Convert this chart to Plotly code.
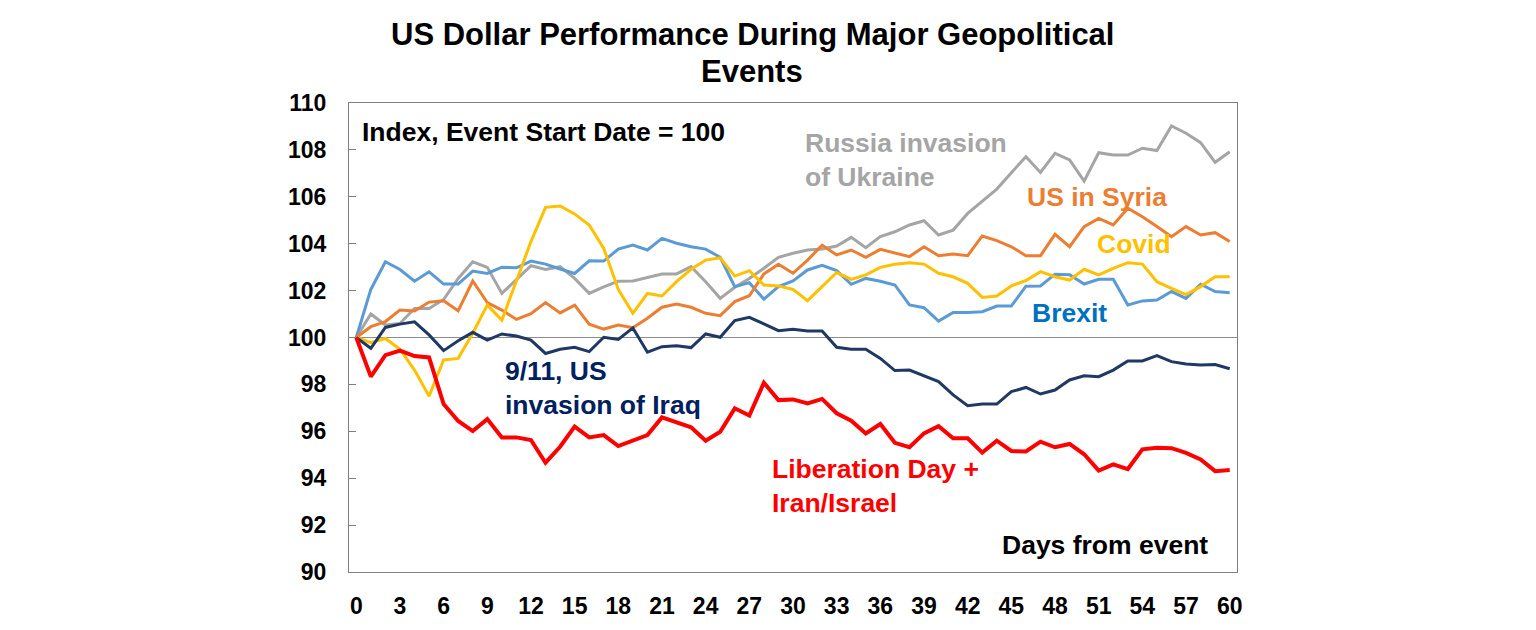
import plotly.graph_objects as go

days = list(range(61))
base = 100

russia = [100, 101.0, 100.53, 100.6, 101.24, 101.24, 101.62, 102.52, 103.23, 102.99, 101.88,
          102.45, 103.06, 102.9, 103.02, 102.52, 101.88, 102.16, 102.4, 102.41, 102.55,
          102.71, 102.71, 103.02, 102.38, 101.67, 102.14, 102.52, 102.95, 103.42, 103.59,
          103.73, 103.77, 103.9, 104.27, 103.83, 104.3, 104.51, 104.8, 104.98, 104.37,
          104.58, 105.29, 105.83, 106.33, 107.03, 107.71, 107.04, 107.85, 107.57, 106.67,
          107.88, 107.78, 107.78, 108.07, 107.97, 109.02, 108.71, 108.31, 107.47, 107.92]
brexit = [100, 102.05, 103.23, 102.9, 102.4, 102.8, 102.28, 102.28, 102.83, 102.73, 103.0,
          102.97, 103.26, 103.13, 102.92, 102.73, 103.27, 103.26, 103.77, 103.94, 103.73,
          104.23, 104.02, 103.87, 103.77, 103.42, 102.17, 102.34, 101.64, 102.17, 102.41,
          102.88, 103.08, 102.85, 102.27, 102.52, 102.4, 102.24, 101.39, 101.27, 100.7,
          101.07, 101.07, 101.1, 101.34, 101.34, 102.19, 102.2, 102.7, 102.68, 102.28,
          102.48, 102.48, 101.39, 101.56, 101.6, 101.96, 101.67, 102.27, 101.96, 101.91]
syria = [100, 100.46, 100.68, 101.17, 101.13, 101.51, 101.57, 101.14, 102.41, 101.49, 101.17,
         100.77, 101.02, 101.49, 101.05, 101.38, 100.57, 100.36, 100.53, 100.42, 100.82,
         101.29, 101.43, 101.29, 101.03, 100.93, 101.53, 101.78, 102.71, 103.12, 102.74,
         103.3, 103.94, 103.52, 103.73, 103.42, 103.76, 103.59, 103.45, 103.87, 103.49,
         103.56, 103.49, 104.33, 104.13, 103.87, 103.49, 103.49, 104.4, 103.87, 104.73,
         105.08, 104.8, 105.51, 105.15, 104.73, 104.3, 104.73, 104.37, 104.47, 104.09]
covid = [100, 99.78, 99.96, 99.5, 98.61, 97.5, 99.04, 99.11, 100.18, 101.38, 100.74,
         102.45, 104.09, 105.55, 105.61, 105.27, 104.8, 103.8, 102.05, 101.03, 101.88,
         101.77, 102.38, 102.91, 103.3, 103.4, 102.62, 102.85, 102.24, 102.2, 102.05,
         101.57, 102.17, 102.77, 102.48, 102.67, 102.99, 103.12, 103.19, 103.13, 102.74,
         102.59, 102.31, 101.71, 101.77, 102.2, 102.43, 102.81, 102.59, 102.45, 102.91,
         102.67, 102.95, 103.19, 103.13, 102.38, 102.1, 101.83, 102.17, 102.59, 102.59]
iraq = [100, 99.54, 100.43, 100.57, 100.67, 100.11, 99.44, 99.86, 100.22, 99.89, 100.15,
        100.06, 99.89, 99.32, 99.5, 99.58, 99.4, 100.01, 99.92, 100.41, 99.37,
        99.61, 99.65, 99.57, 100.15, 100.01, 100.72, 100.86, 100.58, 100.29, 100.35,
        100.28, 100.28, 99.58, 99.5, 99.5, 99.11, 98.59, 98.61, 98.37, 98.12,
        97.55, 97.09, 97.16, 97.16, 97.69, 97.87, 97.59, 97.76, 98.19, 98.37,
        98.33, 98.61, 99.0, 99.0, 99.23, 98.97, 98.87, 98.83, 98.85, 98.67]
liberation = [100, 98.33, 99.25, 99.44, 99.21, 99.15, 97.16, 96.44, 96.01, 96.52, 95.74,
              95.74, 95.63, 94.66, 95.34, 96.2, 95.74, 95.84, 95.37, 95.6, 95.84,
              96.59, 96.37, 96.17, 95.6, 95.98, 96.98, 96.67, 98.07, 97.33, 97.36,
              97.19, 97.38, 96.77, 96.45, 95.91, 96.31, 95.51, 95.32, 95.91, 96.22,
              95.7, 95.7, 95.09, 95.6, 95.16, 95.14, 95.56, 95.32, 95.46, 95.02,
              94.32, 94.59, 94.39, 95.23, 95.3, 95.28, 95.08, 94.8, 94.3, 94.35]

xticks = list(range(0, 61, 3))

font = "Liberation Sans, Arial, sans-serif"

fig = go.Figure()
fig.add_hline(y=base, line=dict(color="#8c8c8c", width=1.2), layer="below")

series = [
    (russia, "#a5a5a5", 3),
    (brexit, "#5b9bd5", 3),
    (syria, "#ed7d31", 3),
    (covid, "#ffc000", 3),
    (iraq, "#1f3864", 3),
    (liberation, "#ff0000", 4),
]
for vals, col, w in series:
    fig.add_trace(go.Scatter(x=days, y=vals, mode="lines",
                             line=dict(color=col, width=w), showlegend=False))

labels = [
    ("Index, Event Start Date = 100", 0.25, 108.76, "black", "left"),
    ("Russia invasion<br>of Ukraine", 30.67, 107.57, "#a5a5a5", "left"),
    ("US in Syria", 45.93, 105.99, "#ed7d31", "left"),
    ("Covid", 50.73, 103.99, "#ffc000", "left"),
    ("Brexit", 46.27, 101.04, "#0070c0", "left"),
    ("9/11, US<br>invasion of Iraq", 10.07, 97.85, "#002060", "left"),
    ("Liberation Day +<br>Iran/Israel", 28.41, 93.67, "#ff0000", "left"),
    ("Days from event", 58.62, 91.15, "black", "right"),
]
for txt, x, y, col, anchor in labels:
    fig.add_annotation(x=x, y=y, text="<b>" + txt + "</b>", showarrow=False,
                       xanchor=anchor, yanchor="middle", align="left",
                       font=dict(family=font, size=26.5, color=col))

# title lines as paper annotations (page has an 8px body offset)
title_lines = ["US Dollar Performance During Major Geopolitical", "Events"]
for line, ypos in zip(title_lines, [(564 - 27) / 469, (564 - 63) / 469]):
    fig.add_annotation(xref="paper", yref="paper", x=(752 - 349) / 888, y=ypos,
                       xanchor="center", yanchor="middle", showarrow=False,
                       text="<b>" + line + "</b>",
                       font=dict(family="Liberation Sans Narrow, Arial Narrow, sans-serif",
                                 size=31, color="black"))

fig.update_layout(
    width=1536, height=630,
    margin=dict(l=341, r=307, t=95, b=66),
    plot_bgcolor="white", paper_bgcolor="white",
    font=dict(family=font, color="black"),
)
fig.update_xaxes(range=[-0.5, 60.5], tickvals=xticks, showgrid=False, zeroline=False,
                 showline=True, linecolor="#7f7f7f", linewidth=1.3, mirror=True,
                 ticks="", ticklabelstandoff=13,
                 tickfont=dict(family=font, size=23, color="black", weight="bold"))
fig.update_yaxes(range=[90, 110], dtick=2, showgrid=False, zeroline=False,
                 showline=True, linecolor="#7f7f7f", linewidth=1.3, mirror=True,
                 ticks="inside", ticklen=7, tickcolor="#7f7f7f", ticklabelstandoff=17,
                 tickfont=dict(family=font, size=23, color="black", weight="bold"))

fig.write_html("out.html")
